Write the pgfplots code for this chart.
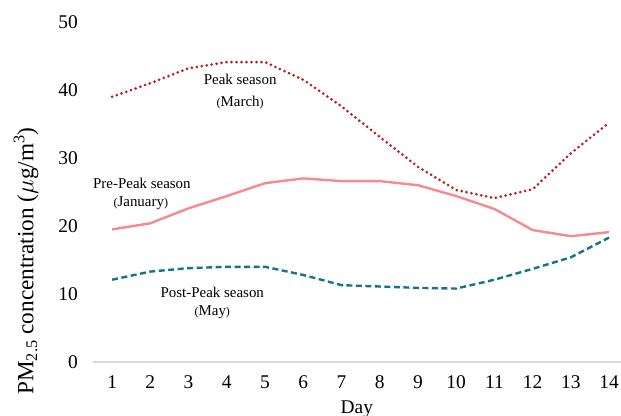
\documentclass[border=0pt]{standalone}
\usepackage{pgfplots}
\pgfplotsset{compat=1.18}
\usepackage{fontspec}
\setmainfont{Liberation Serif}
\definecolor{peakred}{HTML}{BC1F28}
\definecolor{prepink}{HTML}{F78A8A}
\definecolor{postteal}{HTML}{14758A}
\definecolor{axgray}{HTML}{D9D9D9}
\newcommand{\smp}[1]{{\fontsize{12}{12}\selectfont #1}}
\begin{document}
\begin{tikzpicture}
\begin{axis}[
  at={(0,0)}, anchor=south west,
  scale only axis,
  width=527.6bp, height=340bp,
  xmin=0.5, xmax=14.3,
  ymin=0, ymax=50,
  xtick={1,...,14},
  ytick={0,10,...,50},
  axis x line*=bottom,
  axis y line*=left,
  x axis line style={axgray, line width=1.5bp},
  y axis line style={draw=none},
  major tick length=0pt,
  clip=false,
  /pgf/number format/assume math mode=true,
  tick label style={font=\fontsize{19.5}{19.5}\selectfont},
  xticklabel style={anchor=center, yshift=-20bp},
  yticklabel style={anchor=east, inner sep=0pt, xshift=-15bp},
  xlabel={Day},
  xlabel style={at={(axis description cs:0.5,0)}, anchor=center, yshift=-47bp, font=\fontsize{19.5}{19.5}\selectfont},
  ylabel={PM\textsubscript{2.5} concentration ($\mu$g/m\textsuperscript{3})},
  ylabel style={at={(axis description cs:-0.127,0.297)}, anchor=center, font=\fontsize{23.3}{23.3}\selectfont},
]
\addplot[peakred, line width=3bp, line cap=round, dash pattern=on 0pt off 5bp] coordinates {
 (1,39.0) (2,41.0) (3,43.2) (4,44.1) (5,44.1) (6,41.5) (7,37.6) (8,33.1) (9,28.7) (10,25.3) (11,24.1) (12,25.4) (13,30.7) (14,35.2)};
\addplot[prepink, line width=2.4bp] coordinates {
 (1,19.5) (2,20.4) (3,22.6) (4,24.4) (5,26.3) (6,27.0) (7,26.6) (8,26.6) (9,26.0) (10,24.4) (11,22.5) (12,19.4) (13,18.5) (14,19.1)};
\addplot[postteal, line width=2.4bp, dash pattern=on 6bp off 3.5bp] coordinates {
 (1,12.1) (2,13.3) (3,13.8) (4,14.0) (5,14.0) (6,12.8) (7,11.3) (8,11.1) (9,10.9) (10,10.8) (11,12.1) (12,13.7) (13,15.4) (14,18.3)};
\node[font=\fontsize{15}{15}\selectfont] at (axis cs:4.35,41.6) {Peak season};
\node[font=\fontsize{15}{15}\selectfont] at (axis cs:4.35,38.2) {\smp{(}March\smp{)}};
\node[font=\fontsize{15}{15}\selectfont] at (axis cs:1.78,26.3) {Pre-Peak season};
\node[font=\fontsize{15}{15}\selectfont] at (axis cs:1.75,23.4) {\smp{(}January\smp{)}};
\node[font=\fontsize{15}{15}\selectfont] at (axis cs:3.62,10.3) {Post-Peak season};
\node[font=\fontsize{15}{15}\selectfont] at (axis cs:3.62,7.35) {\smp{(}May\smp{)}};
\end{axis}
\pgfresetboundingbox
\path[use as bounding box] (-93bp,-54bp) rectangle (528bp,362bp);
\end{tikzpicture}
\end{document}
